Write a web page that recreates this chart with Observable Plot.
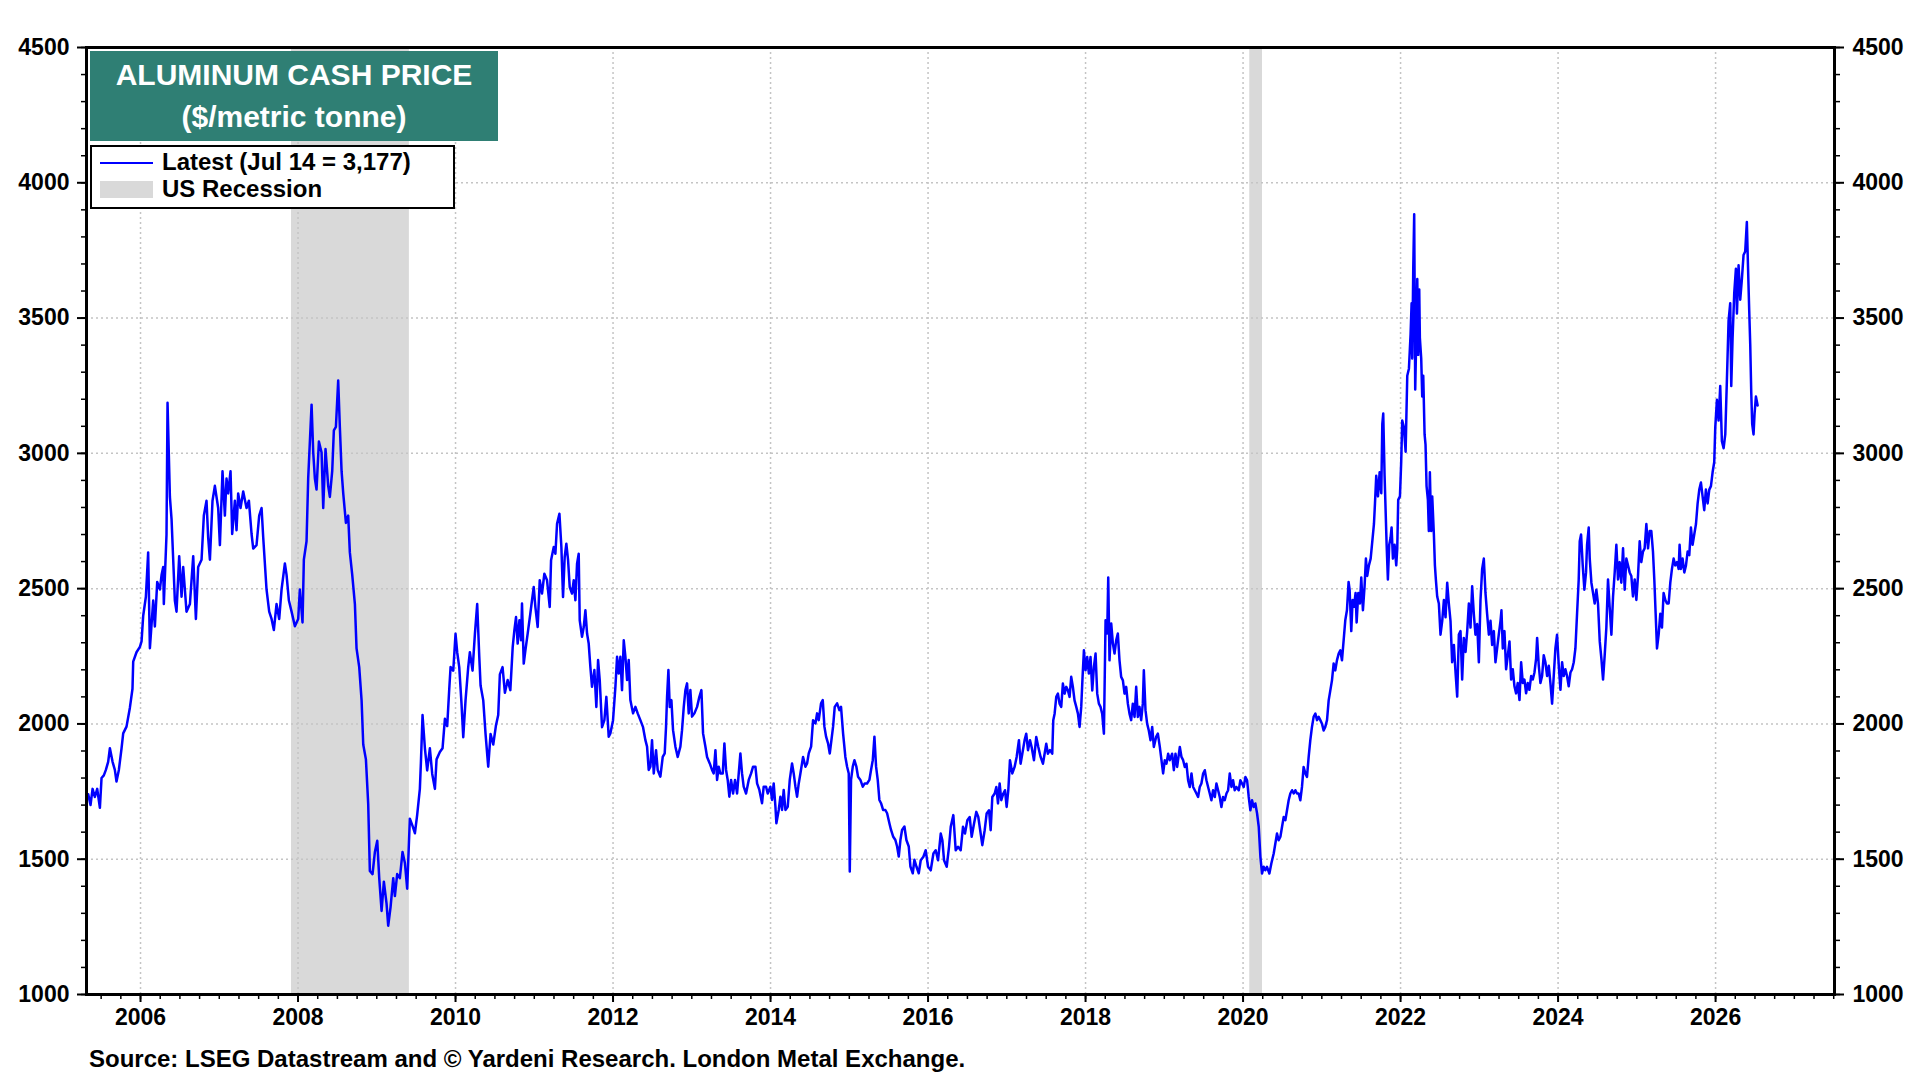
<!DOCTYPE html>
<html>
<head>
<meta charset="utf-8">
<script src="https://cdn.jsdelivr.net/npm/d3@7"></script>
<script src="https://cdn.jsdelivr.net/npm/@observablehq/plot@0.6"></script>
<style>
html, body { margin: 0; padding: 0; background: #fff; }
#wrap { position: relative; width: 1920px; height: 1080px; font-family: "Liberation Sans", Arial, sans-serif; font-weight: bold; color: #000; }
#wrap svg { position: absolute; left: 0; top: 0; }
#title { position: absolute; left: 90px; top: 51px; width: 408px; height: 90px; background: #2f7f74; color: #fff; font-size: 30px; line-height: 42px; text-align: center; padding-top: 3px; box-sizing: border-box; white-space: nowrap; }
#legend { position: absolute; left: 90px; top: 145px; width: 365px; height: 64px; border: 2px solid #000; background: #fff; box-sizing: border-box; }
.lgline { position: absolute; left: 8px; top: 15px; width: 53px; height: 0; border-top: 2px solid #0000ff; }
.lgrect { position: absolute; left: 8px; top: 34px; width: 53px; height: 17px; background: #d9d9d9; }
.lgtext { position: absolute; left: 70px; font-size: 24px; line-height: 28px; white-space: nowrap; }
#source { position: absolute; left: 89px; top: 1047px; font-size: 24px; line-height: 24px; white-space: nowrap; }
</style>
</head>
<body>
<div id="wrap">
  <div id="title">ALUMINUM CASH PRICE<br>($/metric tonne)</div>
  <div id="legend">
    <div class="lgline"></div>
    <div class="lgtext" style="top:1px">Latest (Jul 14 = 3,177)</div>
    <div class="lgrect"></div>
    <div class="lgtext" style="top:28px">US Recession</div>
  </div>
  <div id="source">Source: LSEG Datastream and © Yardeni Research. London Metal Exchange.</div>
</div>
<script>
// Aluminum cash price ($/metric tonne) (decimal years)
const years2005_2010 = [2005.336,2005.365,2005.391,2005.420,2005.450,2005.484,2005.505,2005.534,2005.560,2005.589,2005.611,2005.645,2005.674,2005.695,2005.725,2005.759,2005.780,2005.822,2005.865,2005.898,2005.907,2005.949,2005.992,2006.013,2006.034,2006.068,2006.097,2006.119,2006.161,2006.182,2006.212,2006.246,2006.267,2006.288,2006.296,2006.330,2006.343,2006.373,2006.394,2006.415,2006.436,2006.457,2006.491,2006.521,2006.542,2006.584,2006.627,2006.669,2006.703,2006.732,2006.775,2006.804,2006.838,2006.859,2006.881,2006.914,2006.944,2006.986,2007.008,2007.041,2007.071,2007.092,2007.113,2007.143,2007.164,2007.198,2007.219,2007.240,2007.270,2007.304,2007.346,2007.376,2007.410,2007.431,2007.473,2007.507,2007.537,2007.558,2007.600,2007.634,2007.664,2007.693,2007.727,2007.761,2007.791,2007.833,2007.854,2007.884,2007.918,2007.960,2008.002,2008.023,2008.057,2008.074,2008.108,2008.129,2008.159,2008.172,2008.193,2008.214,2008.235,2008.265,2008.299,2008.320,2008.349,2008.383,2008.404,2008.434,2008.455,2008.481,2008.510,2008.531,2008.553,2008.574,2008.608,2008.637,2008.658,2008.688,2008.722,2008.743,2008.777,2008.807,2008.828,2008.862,2008.891,2008.912,2008.946,2008.976,2009.006,2009.031,2009.061,2009.090,2009.124,2009.145,2009.175,2009.209,2009.230,2009.259,2009.293,2009.327,2009.357,2009.386,2009.420,2009.454,2009.484,2009.513,2009.547,2009.560,2009.581,2009.611,2009.640,2009.674,2009.704,2009.738,2009.759,2009.801,2009.835,2009.865,2009.894,2009.920,2009.937,2009.971,2010.000,2010.021,2010.047,2010.076,2010.098,2010.127,2010.161,2010.182,2010.216,2010.246,2010.275,2010.301,2010.318,2010.352,2010.381,2010.415,2010.445,2010.479,2010.512,2010.542,2010.563,2010.597,2010.627];
const prices2005_2010 = [1740,1700,1760,1730,1760,1690,1800,1810,1830,1860,1910,1860,1830,1787,1830,1910,1965,1990,2060,2130,2230,2265,2285,2305,2400,2470,2634,2280,2456,2360,2525,2497,2550,2580,2443,2700,3187,2839,2757,2607,2456,2415,2620,2470,2580,2415,2443,2620,2388,2580,2607,2770,2825,2689,2607,2825,2880,2798,2661,2934,2770,2907,2852,2934,2702,2825,2716,2852,2798,2859,2798,2825,2702,2648,2661,2770,2798,2689,2497,2415,2388,2347,2443,2388,2497,2593,2552,2456,2415,2361,2388,2497,2375,2607,2675,2907,3098,3180,3003,2907,2866,3044,3003,2798,3016,2880,2839,2934,3085,3098,3269,3098,2934,2852,2743,2770,2634,2552,2443,2279,2210,2087,1924,1869,1705,1457,1445,1527,1568,1430,1309,1417,1336,1254,1323,1430,1364,1445,1430,1527,1486,1391,1650,1623,1596,1664,1760,1855,2033,1910,1828,1910,1815,1760,1869,1896,1910,2019,1992,2128,2210,2197,2333,2265,2210,2074,1951,2087,2210,2265,2197,2333,2443,2251,2142,2087,1963,1842,1963,1924,1992,2033,2183,2210,2115];

const years2010_2015 = [2010.662,2010.696,2010.726,2010.747,2010.768,2010.789,2010.811,2010.832,2010.844,2010.866,2010.887,2010.916,2010.950,2010.971,2010.993,2011.014,2011.043,2011.069,2011.098,2011.128,2011.162,2011.196,2011.213,2011.247,2011.268,2011.289,2011.319,2011.344,2011.365,2011.386,2011.407,2011.429,2011.450,2011.479,2011.501,2011.522,2011.543,2011.564,2011.577,2011.606,2011.628,2011.649,2011.670,2011.691,2011.712,2011.733,2011.763,2011.788,2011.810,2011.831,2011.860,2011.890,2011.915,2011.945,2011.966,2012.000,2012.030,2012.051,2012.072,2012.093,2012.114,2012.136,2012.157,2012.178,2012.199,2012.220,2012.254,2012.284,2012.313,2012.347,2012.381,2012.411,2012.432,2012.453,2012.474,2012.495,2012.517,2012.546,2012.567,2012.601,2012.631,2012.656,2012.673,2012.686,2012.703,2012.720,2012.741,2012.762,2012.792,2012.821,2012.855,2012.876,2012.898,2012.919,2012.940,2012.961,2012.982,2013.003,2013.033,2013.067,2013.096,2013.122,2013.143,2013.173,2013.194,2013.228,2013.257,2013.278,2013.300,2013.321,2013.342,2013.363,2013.393,2013.414,2013.435,2013.456,2013.477,2013.499,2013.524,2013.549,2013.575,2013.596,2013.617,2013.638,2013.659,2013.689,2013.723,2013.753,2013.778,2013.808,2013.829,2013.858,2013.892,2013.913,2013.943,2013.964,2013.998,2014.019,2014.040,2014.062,2014.074,2014.104,2014.125,2014.146,2014.167,2014.189,2014.218,2014.244,2014.273,2014.294,2014.316,2014.337,2014.358,2014.379,2014.413,2014.443,2014.464,2014.485,2014.515,2014.540,2014.570,2014.591,2014.612,2014.641,2014.663,2014.684,2014.705,2014.730,2014.752,2014.773,2014.794,2014.815,2014.845,2014.874,2014.895,2014.921,2014.950,2014.972,2014.993,2015.006,2015.022,2015.044,2015.065,2015.090,2015.111,2015.141,2015.171,2015.196,2015.226,2015.255,2015.276,2015.298,2015.319,2015.340,2015.361,2015.382,2015.403,2015.429,2015.458,2015.480,2015.509,2015.530,2015.556,2015.585,2015.607,2015.628,2015.649,2015.670,2015.700,2015.725,2015.755,2015.776,2015.806,2015.827,2015.852,2015.882];
const prices2010_2015 = [2162,2125,2285,2346,2395,2297,2383,2309,2445,2223,2272,2334,2408,2457,2506,2432,2358,2531,2482,2555,2531,2432,2605,2654,2629,2740,2777,2654,2469,2617,2666,2605,2506,2482,2531,2457,2592,2629,2383,2322,2358,2420,2334,2297,2211,2137,2199,2063,2236,2162,1988,2014,2100,1953,1965,2014,2137,2248,2186,2248,2125,2309,2248,2162,2236,2088,2039,2063,2039,2014,1988,1940,1916,1830,1842,1940,1817,1903,1830,1805,1878,1891,1990,2100,2199,2063,2088,1977,1916,1878,1916,1977,2063,2125,2150,2039,2125,2027,2039,2063,2100,2125,1965,1916,1878,1854,1830,1817,1903,1793,1842,1817,1817,1928,1830,1793,1731,1793,1743,1793,1743,1817,1891,1817,1768,1743,1793,1817,1842,1842,1780,1756,1707,1768,1768,1743,1768,1719,1780,1694,1633,1682,1731,1682,1756,1682,1694,1793,1854,1817,1768,1731,1780,1817,1878,1842,1854,1891,1916,2014,2002,2039,2014,2076,2088,1990,1953,1928,1891,1940,1990,2063,2076,2051,2063,1965,1878,1842,1817,1455,1793,1842,1866,1842,1805,1793,1768,1780,1780,1793,1830,1866,1953,1842,1793,1719,1707,1682,1682,1670,1633,1608,1584,1571,1547,1510,1571,1608,1621,1571,1547,1473,1448,1498,1473,1448];

const years2015_2021 = [2015.907,2015.941,2015.970,2016.000,2016.034,2016.068,2016.097,2016.127,2016.161,2016.182,2016.203,2016.237,2016.266,2016.288,2016.321,2016.351,2016.381,2016.414,2016.444,2016.469,2016.499,2016.529,2016.554,2016.584,2016.613,2016.638,2016.668,2016.689,2016.719,2016.744,2016.774,2016.795,2016.816,2016.846,2016.867,2016.888,2016.909,2016.930,2016.956,2016.977,2016.998,2017.019,2017.040,2017.070,2017.099,2017.125,2017.154,2017.175,2017.197,2017.226,2017.247,2017.269,2017.294,2017.315,2017.345,2017.374,2017.400,2017.429,2017.459,2017.480,2017.501,2017.522,2017.548,2017.577,2017.590,2017.607,2017.628,2017.649,2017.670,2017.691,2017.712,2017.734,2017.755,2017.776,2017.797,2017.818,2017.839,2017.860,2017.882,2017.903,2017.924,2017.945,2017.962,2017.979,2018.000,2018.021,2018.042,2018.063,2018.085,2018.106,2018.127,2018.148,2018.169,2018.190,2018.211,2018.233,2018.254,2018.275,2018.288,2018.304,2018.326,2018.347,2018.368,2018.389,2018.410,2018.431,2018.452,2018.474,2018.495,2018.516,2018.537,2018.558,2018.579,2018.600,2018.622,2018.643,2018.664,2018.685,2018.706,2018.727,2018.740,2018.761,2018.782,2018.803,2018.825,2018.846,2018.867,2018.896,2018.918,2018.943,2018.964,2018.985,2019.006,2019.027,2019.049,2019.070,2019.099,2019.121,2019.142,2019.163,2019.197,2019.218,2019.239,2019.260,2019.281,2019.302,2019.323,2019.345,2019.366,2019.387,2019.408,2019.429,2019.450,2019.471,2019.493,2019.514,2019.535,2019.556,2019.577,2019.598,2019.619,2019.641,2019.662,2019.683,2019.704,2019.725,2019.746,2019.767,2019.789,2019.810,2019.831,2019.852,2019.873,2019.894,2019.915,2019.945,2019.966,2019.987,2020.008,2020.030,2020.051,2020.072,2020.093,2020.114,2020.135,2020.156,2020.178,2020.199,2020.220,2020.241,2020.262,2020.283,2020.304,2020.334,2020.359,2020.389,2020.410,2020.431,2020.452,2020.474,2020.495,2020.516,2020.537,2020.558,2020.579,2020.600,2020.622,2020.643,2020.664,2020.685,2020.706,2020.727,2020.748,2020.769,2020.791,2020.812,2020.833,2020.854,2020.875,2020.896,2020.918,2020.939,2020.960,2020.981,2021.002,2021.023,2021.044,2021.066,2021.087,2021.108,2021.129,2021.150,2021.171,2021.192,2021.214,2021.235,2021.256,2021.277,2021.298,2021.319,2021.340];
const prices2015_2021 = [1496,1509,1533,1472,1459,1521,1533,1496,1595,1570,1496,1472,1546,1620,1663,1533,1546,1533,1620,1595,1644,1656,1583,1632,1675,1656,1595,1552,1607,1669,1681,1607,1730,1743,1767,1706,1780,1718,1743,1755,1693,1755,1866,1817,1841,1878,1940,1853,1890,1940,1964,1903,1940,1915,1866,1952,1915,1878,1853,1890,1927,1890,1903,1890,2014,2038,2100,2112,2075,2063,2149,2112,2137,2124,2100,2174,2137,2087,2063,2038,1989,2063,2174,2272,2198,2247,2186,2247,2124,2211,2260,2112,2075,2063,2038,1964,2383,2334,2541,2235,2371,2297,2260,2309,2334,2235,2174,2161,2112,2137,2075,2038,2014,2075,2026,2137,2026,2063,2014,2075,2198,2051,2001,1976,1940,1989,1915,1952,1964,1915,1866,1817,1866,1853,1890,1866,1890,1829,1890,1841,1915,1878,1866,1841,1853,1792,1767,1817,1767,1755,1743,1730,1767,1780,1817,1829,1792,1767,1743,1718,1755,1730,1780,1755,1730,1693,1730,1718,1743,1755,1817,1767,1792,1755,1767,1755,1792,1780,1767,1804,1792,1730,1681,1718,1693,1706,1669,1620,1509,1447,1472,1459,1472,1447,1484,1521,1558,1595,1570,1583,1620,1656,1644,1681,1718,1743,1755,1743,1755,1743,1743,1718,1767,1841,1817,1804,1878,1940,1989,2026,2038,2014,2026,2014,2001,1976,1989,2014,2087,2124,2161,2223,2198,2235,2260,2272,2235,2309,2383,2420,2525];

const years2021_2026 = [2021.353,2021.374,2021.391,2021.408,2021.429,2021.442,2021.463,2021.484,2021.501,2021.522,2021.543,2021.560,2021.577,2021.598,2021.620,2021.641,2021.662,2021.675,2021.691,2021.713,2021.734,2021.755,2021.768,2021.780,2021.797,2021.810,2021.823,2021.839,2021.856,2021.873,2021.886,2021.903,2021.924,2021.945,2021.958,2021.970,2021.992,2022.008,2022.021,2022.042,2022.064,2022.085,2022.106,2022.127,2022.140,2022.148,2022.161,2022.173,2022.186,2022.199,2022.212,2022.224,2022.237,2022.245,2022.262,2022.275,2022.288,2022.305,2022.317,2022.330,2022.347,2022.359,2022.372,2022.389,2022.402,2022.423,2022.436,2022.448,2022.465,2022.486,2022.507,2022.529,2022.550,2022.571,2022.592,2022.613,2022.634,2022.655,2022.677,2022.698,2022.719,2022.740,2022.761,2022.782,2022.803,2022.825,2022.846,2022.867,2022.888,2022.909,2022.930,2022.951,2022.973,2022.994,2023.015,2023.036,2023.057,2023.078,2023.099,2023.121,2023.142,2023.163,2023.184,2023.205,2023.226,2023.247,2023.269,2023.281,2023.298,2023.319,2023.340,2023.362,2023.383,2023.404,2023.425,2023.446,2023.467,2023.488,2023.510,2023.531,2023.552,2023.573,2023.594,2023.615,2023.636,2023.658,2023.679,2023.700,2023.721,2023.734,2023.755,2023.776,2023.797,2023.818,2023.839,2023.861,2023.882,2023.903,2023.924,2023.945,2023.966,2023.987,2024.009,2024.030,2024.051,2024.072,2024.093,2024.114,2024.135,2024.157,2024.178,2024.199,2024.220,2024.241,2024.262,2024.275,2024.292,2024.313,2024.334,2024.355,2024.368,2024.389,2024.402,2024.423,2024.444,2024.465,2024.486,2024.507,2024.529,2024.550,2024.571,2024.592,2024.613,2024.634,2024.655,2024.677,2024.698,2024.719,2024.740,2024.761,2024.782,2024.803,2024.825,2024.846,2024.867,2024.888,2024.909,2024.930,2024.951,2024.973,2024.994,2025.015,2025.036,2025.057,2025.078,2025.099,2025.121,2025.142,2025.163,2025.184,2025.205,2025.222,2025.239,2025.256,2025.277,2025.298,2025.319,2025.340,2025.362,2025.383,2025.404,2025.425,2025.446,2025.467,2025.488,2025.510,2025.531,2025.543,2025.560,2025.581,2025.603,2025.624,2025.645,2025.666,2025.687,2025.708,2025.729,2025.751,2025.772,2025.793,2025.814,2025.835,2025.856,2025.877,2025.899,2025.920,2025.941,2025.962,2025.983,2025.996,2026.017,2026.038,2026.059,2026.080,2026.102,2026.123,2026.144,2026.165,2026.186,2026.199,2026.216,2026.237,2026.258,2026.271,2026.292,2026.313,2026.334,2026.355,2026.376,2026.397,2026.410,2026.427,2026.440,2026.453,2026.465,2026.482,2026.495,2026.512,2026.534];
const prices2021_2026 = [2496,2343,2458,2433,2484,2375,2484,2445,2541,2420,2509,2611,2547,2586,2611,2675,2739,2815,2917,2841,2930,2853,3108,3147,2917,2790,2662,2534,2662,2688,2726,2611,2662,2586,2649,2828,2841,2968,3121,3096,3006,3287,3313,3440,3555,3351,3682,3884,3236,3427,3644,3364,3606,3427,3351,3210,3287,3070,3032,2879,2828,2713,2930,2713,2841,2700,2586,2534,2471,2445,2330,2381,2458,2394,2522,2445,2381,2228,2292,2190,2101,2330,2343,2164,2318,2266,2343,2445,2356,2509,2407,2330,2369,2228,2458,2573,2611,2484,2407,2330,2381,2292,2343,2228,2279,2330,2381,2420,2279,2343,2202,2254,2305,2164,2202,2139,2113,2151,2088,2228,2151,2164,2113,2151,2126,2177,2164,2190,2241,2318,2215,2151,2177,2254,2228,2177,2215,2151,2075,2177,2279,2330,2215,2126,2228,2177,2202,2177,2139,2190,2202,2228,2279,2407,2534,2675,2700,2586,2496,2560,2662,2726,2611,2522,2484,2445,2496,2445,2305,2241,2164,2254,2356,2534,2432,2330,2471,2560,2662,2534,2598,2522,2649,2496,2611,2586,2560,2547,2471,2534,2458,2547,2675,2598,2637,2649,2739,2649,2713,2713,2637,2534,2407,2279,2330,2407,2356,2484,2458,2445,2445,2522,2573,2611,2586,2598,2573,2662,2573,2611,2560,2586,2637,2624,2726,2662,2700,2739,2815,2866,2892,2841,2790,2866,2815,2866,2879,2930,2968,3096,3198,3121,3249,3045,3019,3070,3274,3491,3555,3249,3427,3593,3682,3517,3695,3568,3644,3733,3746,3855,3708,3529,3402,3223,3108,3070,3147,3210,3177];

// US recessions (decimal years)
const recessionStart = [2007.917, 2020.085];
const recessionEnd = [2009.414, 2020.247];

// Axis ticks
const yearTicks = [2006, 2008, 2010, 2012, 2014, 2016, 2018, 2020, 2022, 2024, 2026];
const quarterTicks = d3.range(2005.5, 2027.51, 0.25);
const priceTicks = [1000, 1500, 2000, 2500, 3000, 3500, 4000, 4500];
const priceMinorTicks = d3.range(1000, 4501, 100);

const xDomain = [2005.314, 2027.51];
const yDomain = [1000, 4500];

const allYears = [...years2005_2010, ...years2010_2015, ...years2015_2021, ...years2021_2026];
const allPrices = [...prices2005_2010, ...prices2010_2015, ...prices2015_2021, ...prices2021_2026];
const series = allYears.map((y, i) => ({year: y, price: allPrices[i]}));
const recessions = recessionStart.map((s, i) => ({start: s, end: recessionEnd[i]}));

const fmt = d => String(d);
const none = () => "";

const chart = Plot.plot({
  width: 1920,
  height: 1080,
  marginLeft: 86,
  marginRight: 86,
  marginTop: 47,
  marginBottom: 86,
  x: {type: "linear", domain: xDomain},
  y: {type: "linear", domain: yDomain},
  style: {fontFamily: "'Liberation Sans', Arial, sans-serif", fontSize: "23px", fontWeight: "bold", color: "#000", background: "transparent", overflow: "visible"},
  marks: [
    Plot.rect(recessions, {x1: "start", x2: "end", fill: "#d9d9d9"}),
    Plot.gridX(yearTicks, {stroke: "#c4c4c4", strokeOpacity: 1, strokeWidth: 1.5, strokeDasharray: "2,3"}),
    Plot.gridY(priceTicks, {stroke: "#c4c4c4", strokeOpacity: 1, strokeWidth: 1.5, strokeDasharray: "2,3"}),
    Plot.line(series, {x: "year", y: "price", stroke: "#0000ff", strokeWidth: 2.5}),
    Plot.frame({stroke: "#000", strokeWidth: 3}),
    Plot.axisX(yearTicks, {anchor: "bottom", tickSize: 8, tickPadding: 6, tickFormat: fmt, label: null, stroke: "#000", strokeWidth: 2}),
    Plot.axisX(quarterTicks, {anchor: "bottom", tickSize: 5, tickFormat: none, label: null, stroke: "#000", strokeWidth: 1.5}),
    Plot.axisY(priceTicks, {anchor: "left", tickSize: 9, tickPadding: 8, tickFormat: fmt, label: null, stroke: "#000", strokeWidth: 2}),
    Plot.axisY(priceMinorTicks, {anchor: "left", tickSize: 5, tickFormat: none, label: null, stroke: "#000", strokeWidth: 1.5}),
    Plot.axisY(priceTicks, {anchor: "right", tickSize: 9, tickPadding: 9, tickFormat: fmt, label: null, stroke: "#000", strokeWidth: 2}),
    Plot.axisY(priceMinorTicks, {anchor: "right", tickSize: 5, tickFormat: none, label: null, stroke: "#000", strokeWidth: 1.5})
  ]
});

document.getElementById("wrap").insertBefore(chart, document.getElementById("wrap").firstChild);
</script>
</body>
</html>
